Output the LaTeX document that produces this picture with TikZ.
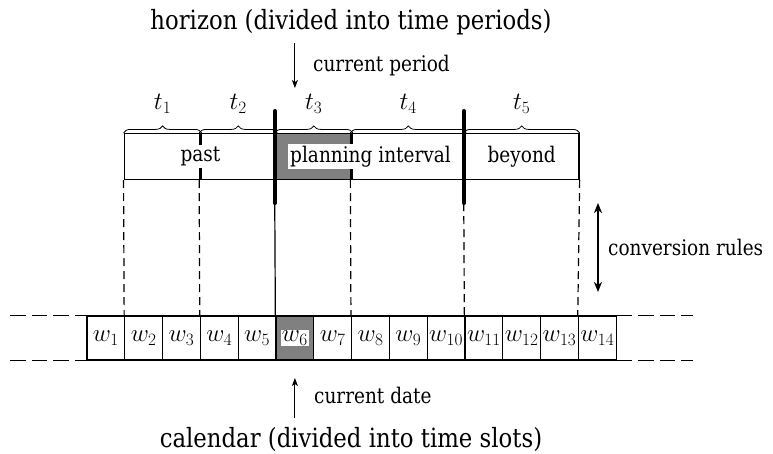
\documentclass[tikz,border=0pt]{standalone}
\usepackage{fontspec}
\setmainfont{DejaVu Serif}[FakeStretch=0.86]
\usetikzlibrary{positioning,fit,calc,arrows.meta,decorations.pathreplacing}
\setlength{\fboxsep}{1pt}
\newcommand\notefont{\fontsize{21.5}{24}\selectfont}
\newcommand\headfont{\fontsize{26.5}{30}\selectfont}
\newcommand\mathfont{\fontsize{24.5}{26}\selectfont}
\tikzset{
  slot/.style={draw, line width=1.3pt, minimum width=37.8pt, minimum height=44pt,
    inner sep=0pt, font=\mathfont},
  now slot/.style={slot, fill=gray},
  period/.style={draw, line width=1.2pt, inner sep=0pt},
  period label/.style={fill=white, inner sep=2pt, font=\notefont},
  brace line/.style={decorate, decoration={brace, amplitude=7pt}, line width=0.8pt},
  guide/.style={dash pattern=on 8pt off 5pt, line width=1.2pt},
  ext line/.style={dash pattern=on 15.5pt off 6pt, line width=1.3pt},
  marker/.style={line width=4pt, line cap=round},
  pointer/.style={-{Stealth[length=8pt, width=6pt, inset=2pt]}, line width=1pt},
  conv arrow/.style={{Stealth[length=10pt, width=8pt, inset=3pt]}-{Stealth[length=10pt, width=8pt, inset=3pt]}, line width=2.2pt},
  note/.style={font=\notefont, anchor=base west, inner sep=0pt},
  heading/.style={font=\headfont, anchor=base, inner sep=0pt}
}
\begin{document}
\begin{tikzpicture}[x=1pt, y=-1pt]
\useasboundingbox (0,0) rectangle (773,453);

% calendar, one box per time slot
\foreach \i in {1,...,14}{
  \ifnum\i=6
    \node[now slot] (w\i) at ({105.9+(\i-1)*37.8},338) {\colorbox{white}{$w_{\i}$}};
  \else
    \node[slot] (w\i) at ({105.9+(\i-1)*37.8},338) {$w_{\i}$};
  \fi
}
\draw[ext line] (w1.north west) ++(-76,0) -- (w1.north west);
\draw[ext line] (w1.south west) ++(-76,0) -- (w1.south west);
\draw[ext line] (w14.north east) -- ++(76,0);
\draw[ext line] (w14.south east) -- ++(76,0);

% horizon, periods over the slots
\node[period, fit={(w2.west |- 0,133.5) (w3.east |- 0,179.5)}] (p1) {};
\node[period, fit={(w4.west |- 0,133.5) (w5.east |- 0,179.5)}] (p2) {};
\node[period, fill=gray, fit={(w6.west |- 0,133.5) (w7.east |- 0,179.5)}] (p3) {};
\node[period, fit={(w8.west |- 0,133.5) (w10.east |- 0,179.5)}] (p4) {};
\node[period, fit={(w11.west |- 0,133.5) (w13.east |- 0,179.5)}] (p5) {};

\node[period label] (past) at ($(p1.west)!0.5!(p2.east)$) {past};
\node[period label] (plan) at ($(p3.west)!0.5!(p4.east)$) {planning interval};
\node[period label] (beyond) at (p5) {beyond};

\foreach \k in {1,...,5}
  \draw[brace line] (p\k.north west) -- (p\k.north east)
    node[midway, anchor=base, yshift=23.5pt, inner sep=0pt, font=\mathfont] (t\k) {$t_{\k}$};

% links between periods and slots
\draw[guide] (p1.south west) -- (w2.north west);
\draw[guide] (p2.south west) -- (w4.north west);
\draw[guide] (p4.south west) -- (w8.north west);
\draw[guide] (p5.south east) -- (w14.north west);

\coordinate (cut1 top) at (p3.west |- 0,111);
\coordinate (cut1 bot) at (p3.west |- 0,203);
\coordinate (cut2 top) at (p5.west |- 0,111);
\coordinate (cut2 bot) at (p5.west |- 0,203);
\draw[line width=1.2pt] (cut1 bot) -- (w6.north west);
\draw[guide] (cut2 bot) -- (w11.north west);
\draw[marker] (cut1 top) -- (cut1 bot);
\draw[marker] (cut2 top) -- (cut2 bot);

% headings and pointers
\node[heading] (horizon) at (351,29) {horizon (divided into time periods)};
\node[heading] (calendar) at (351,447) {calendar (divided into time slots)};

\coordinate (per tail) at (w6.center |- 0,43);
\coordinate (per tip) at (w6.center |- 0,88);
\draw[pointer] (per tail) -- (per tip);
\node[note] (curper) at (313,71) {current period};

\coordinate (date tail) at (w6.center |- 0,418);
\coordinate (date tip) at (w6.center |- 0,378);
\draw[pointer] (date tail) -- (date tip);
\node[note] (curdate) at (314,403) {current date};

\coordinate (conv top) at (598,203);
\coordinate (conv bot) at (598,292);
\draw[conv arrow] (conv top) -- (conv bot);
\node[note] (conv) at (608,255) {conversion rules};
\end{tikzpicture}
\end{document}
